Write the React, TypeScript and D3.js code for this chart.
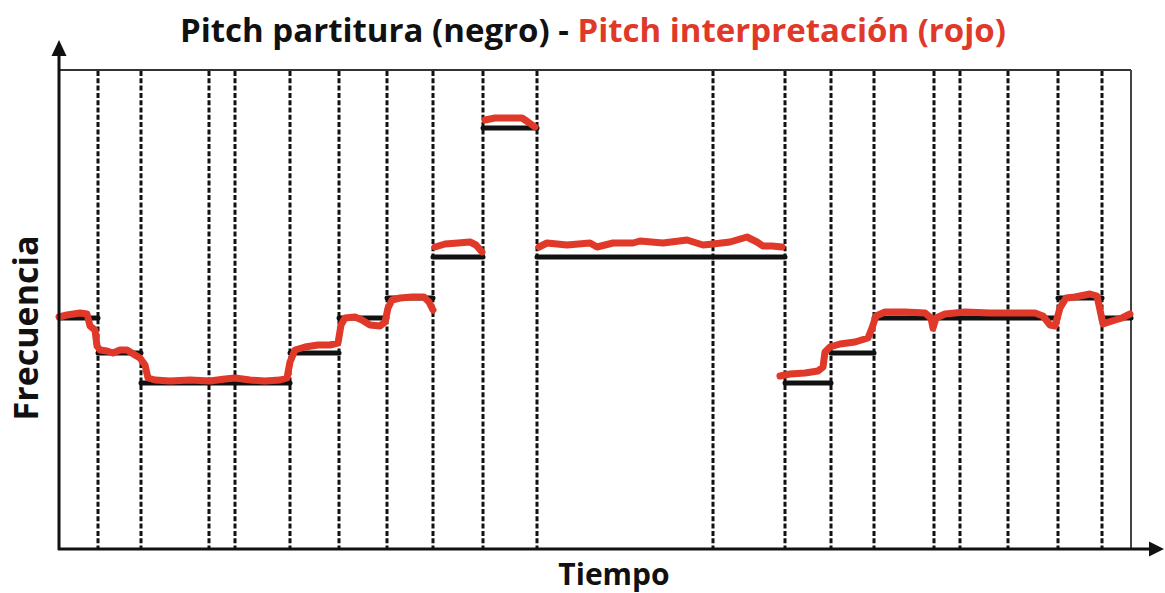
import React, { useEffect, useRef } from "react";
import * as d3 from "d3";

// note boundaries (time frames), the score pitch per note and the sung pitch
const totalTime = 1072;
const boundaries = [39, 82, 150, 176, 231, 280, 328, 374, 424, 478, 654, 726, 772, 815, 875, 901, 949, 999, 1043];
const scorePitch = [231, 196, 166, 166, 166, 196, 231, 251, 292, 421, 292, 292, 166, 196, 231, 231, 231, 231, 251, 231];

// interpretation, one array per continuous stretch: [time, freq]
const sungRun1: [number, number][] = [
    [0, 232], [8, 234], [21, 236], [28, 235], [31, 223], [36, 219], [38, 203],
    [41, 199], [48, 198], [54, 196], [61, 199], [68, 199], [76, 194], [81, 191], [86, 184],
    [89, 171], [96, 169], [111, 168], [131, 169], [151, 168], [166, 170], [176, 171], [191, 169],
    [206, 168], [221, 169], [228, 171], [231, 187], [236, 199],
    [246, 202], [259, 204], [271, 204], [279, 206], [282, 224],
    [286, 231], [296, 232], [303, 229], [311, 224], [321, 223], [326, 227], [329, 241], [333, 249],
    [341, 251], [353, 252], [365, 252], [370, 247], [374, 239],
];
const sungRun2: [number, number][] = [
    [376, 302], [386, 305], [399, 306], [411, 307], [417, 304], [423, 297],
];
const sungRun3: [number, number][] = [
    [426, 429], [436, 431], [451, 431], [463, 431], [469, 427], [476, 422],
];
const sungRun4: [number, number][] = [
    [480, 302], [488, 306], [508, 304], [531, 306], [538, 302], [554, 306], [574, 306], [581, 308],
    [604, 306], [628, 309], [644, 304], [654, 305], [671, 307], [688, 312], [698, 307], [704, 303],
    [713, 303], [723, 302],
];
const sungRun5: [number, number][] = [
    [721, 173], [731, 175], [746, 176], [759, 178], [764, 182], [766, 197], [771, 202],
    [781, 205], [796, 207], [809, 211], [813, 221], [817, 233],
    [826, 237], [846, 237], [866, 236], [872, 231], [874, 221], [877, 231], [886, 235], [906, 237],
    [931, 236], [956, 236], [976, 236], [984, 233], [991, 224], [996, 223], [1001, 241], [1007, 251],
    [1016, 252], [1031, 255], [1038, 253], [1041, 239], [1044, 225], [1053, 228], [1063, 231], [1071, 235],
];
const sungRuns = [sungRun1, sungRun2, sungRun3, sungRun4, sungRun5];

const RED = "#e0392a";

function PitchChart() {
    const ref = useRef<SVGSVGElement>(null);

    useEffect(() => {
        const svg = d3.select(ref.current);
        svg.selectAll("*").remove();

        let left = 59, right = 1131, top = 70, bottom = 549;

        let xScale = d3.scaleLinear().domain([0, totalTime]).range([left, right]);
        let yScale = d3.scaleLinear().domain([0, 479]).range([bottom, top]);

        // frame: top and right borders
        svg.append("line")
            .attr("x1", left).attr("x2", right)
            .attr("y1", top).attr("y2", top)
            .attr("stroke", "#333").attr("stroke-width", 2);
        svg.append("line")
            .attr("x1", right).attr("x2", right)
            .attr("y1", top).attr("y2", bottom)
            .attr("stroke", "#444").attr("stroke-width", 2);

        // dashed note boundaries
        svg.append("g").selectAll("line")
            .data(boundaries)
            .enter()
            .append("line")
            .attr("x1", d => xScale(d)).attr("x2", d => xScale(d))
            .attr("y1", top + 1).attr("y2", bottom)
            .attr("stroke", "#111")
            .attr("stroke-width", 3)
            .attr("stroke-dasharray", "5 2.3");

        // score (black)
        const notes = scorePitch.map((f, i) => ({
            start: i === 0 ? 0 : boundaries[i - 1],
            end: i === boundaries.length ? totalTime : boundaries[i],
            f,
        }));
        svg.append("g").selectAll("line")
            .data(notes)
            .enter()
            .append("line")
            .attr("x1", d => xScale(d.start)).attr("x2", d => xScale(d.end))
            .attr("y1", d => yScale(d.f)).attr("y2", d => yScale(d.f))
            .attr("stroke", "#111")
            .attr("stroke-width", 5)
            .attr("stroke-linecap", "round");

        // interpretation (red)
        const line = d3.line<[number, number]>()
            .x(d => xScale(d[0]))
            .y(d => yScale(d[1]));
        svg.append("g").selectAll("path")
            .data(sungRuns)
            .enter()
            .append("path")
            .attr("d", d => line(d))
            .attr("fill", "none")
            .attr("stroke", RED)
            .attr("stroke-width", 7)
            .attr("stroke-linejoin", "round")
            .attr("stroke-linecap", "round");

        // axes with arrow heads
        svg.append("line")
            .attr("x1", left).attr("x2", left)
            .attr("y1", bottom + 1).attr("y2", 52)
            .attr("stroke", "#111").attr("stroke-width", 3);
        svg.append("path")
            .attr("d", `M${left},40 L${left - 7.5},56 L${left + 7.5},56 Z`)
            .attr("fill", "#111");
        svg.append("line")
            .attr("x1", left - 1).attr("x2", 1152)
            .attr("y1", bottom).attr("y2", bottom)
            .attr("stroke", "#111").attr("stroke-width", 3);
        svg.append("path")
            .attr("d", `M1164,${bottom} L1149,${bottom - 7.5} L1149,${bottom + 7.5} Z`)
            .attr("fill", "#111");

        // title
        const title = svg.append("text")
            .attr("x", 593)
            .attr("y", 42)
            .attr("text-anchor", "middle")
            .attr("font-family", "Open Sans")
            .attr("font-weight", 700)
            .attr("font-size", 33);
        title.append("tspan").attr("fill", "#111").text("Pitch partitura (negro) - ");
        title.append("tspan").attr("fill", RED).text("Pitch interpretación (rojo)");

        // axis labels
        svg.append("text")
            .attr("text-anchor", "middle")
            .attr("x", 614)
            .attr("y", 585)
            .attr("font-family", "Open Sans")
            .attr("font-weight", 700)
            .attr("font-size", 30)
            .attr("fill", "#111")
            .text("Tiempo");

        svg.append("text")
            .attr("text-anchor", "middle")
            .attr("transform", "translate(38,328) rotate(-90)")
            .attr("font-family", "Open Sans")
            .attr("font-weight", 700)
            .attr("font-size", 34)
            .attr("fill", "#111")
            .text("Frecuencia");
    }, []);

    return (
        <svg ref={ref} width={1165} height={593}
             style={{ position: "absolute", left: 0, top: 0, background: "#fff" }} />
    );
}

export default function App() {
    return <PitchChart />;
}
